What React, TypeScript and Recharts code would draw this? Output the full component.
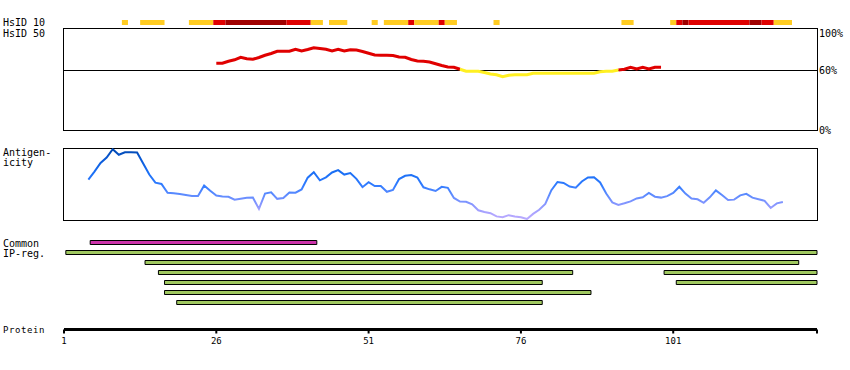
import React from "react"
import {
  ComposedChart,
  Line,
  XAxis,
  YAxis,
  ReferenceArea,
  ReferenceLine,
} from "recharts"

// protein axis: residue 1 sits on the left edge, the axis stops a bit after 124
const PROTEIN_END = 124.6
const axisTicks = [1, 26, 51, 76, 101]

// HsID 10 track: [first residue, last residue, level]
const hsid10Segments: [number, number, string][] = [
  [11, 11, "low"], [14, 17, "low"], [22, 25, "low"], [26, 27, "mid"],
  [28, 37, "high"], [38, 41, "mid"], [42, 43, "low"], [45, 47, "low"],
  [52, 52, "low"], [54, 57, "low"], [58, 58, "mid"], [59, 62, "low"],
  [63, 63, "mid"], [64, 65, "low"], [72, 72, "low"], [93, 94, "low"],
  [101, 101, "low"], [102, 102, "mid"], [103, 103, "high"], [104, 113, "mid"],
  [114, 115, "high"], [116, 117, "mid"], [118, 120, "low"],
]
const levelColors: Record<string, string> = { low: "#ffcc22", mid: "#e00000", high: "#a00000" }

// HsID 50 identity (%) for residues 26..99
const hsid50Start = 26
const hsid50Values = [
  67.2, 67.2, 69.2, 70.7, 73.2, 71.7, 71.2, 73, 75.2, 77,
  79.2, 79.2, 79.2, 81.2, 79.5, 81, 82.7, 82, 81.2, 79.5,
  81.2, 79.5, 80.7, 80.5, 79, 77.2, 75.5, 75.2, 75.2, 75,
  73.5, 73.2, 71, 69.5, 69.2, 68.5, 66.7, 65, 63.5, 63.2,
  61.2, 59.2, 59.2, 59.2, 58, 56.5, 55.8, 53.8, 55.3, 55.8,
  55.8, 55.8, 57.2, 57.2, 57.2, 57.2, 57.2, 57.2, 57.2, 57.2,
  57.2, 57.2, 57.2, 58.7, 59.2, 59.2, 60.5, 61.2, 63.2, 61.5,
  63.2, 61.5, 63.2, 63.2,
]
// stretch drawn in yellow (below threshold)
const hsid50Low: [number, number] = [66, 92]

// antigenicity for residues 5..119
const antigenStart = 5
const antigenValues = [
  56.1, 67.2, 79.2, 86.8, 98.3, 90.6, 94, 94, 93.8, 78.5,
  63.2, 51.8, 50, 37.8, 37.2, 36.1, 34.7, 33.3, 33.3, 47.9,
  40.7, 34, 32.8, 32.2, 28.2, 29.6, 30.8, 31.1, 15.3, 36.8,
  38.5, 29.4, 30.6, 38.2, 37.9, 42.4, 58.8, 66.3, 55.1, 59.2,
  66, 69.2, 63.1, 65.3, 57.2, 45.6, 52.4, 47.2, 47.1, 39.2,
  41.7, 56.9, 61.4, 62.4, 59, 45.4, 42.6, 40.3, 46.1, 44.7,
  30.6, 25.7, 25.3, 21.8, 13.5, 11, 9.4, 5, 3.8, 6.7,
  5, 3.9, 1.4, 8.5, 14.2, 22.2, 41.4, 52.8, 51.4, 46.5,
  44.9, 53.5, 59, 59.4, 52.1, 36.8, 24.4, 21, 23.2, 25.8,
  30, 31.5, 37.5, 32.4, 31.1, 33.1, 37.5, 46.1, 36.7, 29.9,
  28.8, 23.9, 31.5, 41.1, 34.7, 27.8, 28.3, 34.2, 36.4, 31,
  28.8, 26.7, 16.7, 23.1, 25,
]

// Common IP-reg: row, from, to (axis positions)
const commonRegion: [number, number, number][] = [[0, 5.3, 42.5]]
const ipRegions: [number, number, number][] = [
  [1, 1.3, PROTEIN_END],
  [2, 14.3, 121.6],
  [3, 16.5, 84.5], [3, 99.5, PROTEIN_END],
  [4, 17.5, 79.5], [4, 101.5, PROTEIN_END],
  [5, 17.5, 87.5],
  [6, 19.5, 79.5],
]

const FONT = "'DejaVu Sans Mono', monospace"
const MARGIN = { top: 0, right: 33, bottom: 0, left: 64 }

const hsid50Rows = hsid50Values.map((v, i) => {
  const pos = hsid50Start + i
  const low = pos >= hsid50Low[0] && pos <= hsid50Low[1]
  const high = pos <= hsid50Low[0] || pos >= hsid50Low[1]
  return { pos, red: high ? v : null, yellow: low ? v : null }
})
const antigenRows = antigenValues.map((v, i) => ({ pos: antigenStart + i, value: v }))
// anchor rows so the track charts get their scales (the helper line is invisible)
const hsid10Rows = hsid10Segments.map((s) => ({ pos: s[0], lane: 0.5 }))
const ipRows = [...commonRegion, ...ipRegions].map((r) => ({ pos: r[1], lane: r[0] + 1.2 }))

const posAxis = (
  <XAxis type="number" dataKey="pos" domain={[1, PROTEIN_END]} hide allowDataOverflow />
)

const PctTick = (props: any) => {
  const { x, y, payload } = props
  return (
    <text x={x} y={y} dy={payload.value === 100 ? 6 : 3.5} fontSize={10} fontFamily={FONT} fill="#000" textAnchor="start">
      {payload.value}%
    </text>
  )
}

const ResidueTick = (props: any) => {
  const { x, y, payload } = props
  if (!axisTicks.includes(payload.value)) return <g />
  return (
    <text x={x} y={y} dy="0.71em" fontSize={9} fontFamily={FONT} fill="#000" textAnchor="middle">
      {payload.value}
    </text>
  )
}

const frame = (top: number, height: number): React.CSSProperties => ({
  position: "absolute", left: 63, top, width: 755, height,
  border: "1px solid #000", boxSizing: "border-box",
})

export default function App() {
  return (
    <div style={{ position: "absolute", left: 0, top: 0, width: 850, height: 370, background: "#fff" }}>
      <div style={frame(28, 103)} />
      <div style={frame(148, 73)} />

      {/* HsID 10 */}
      <div style={{ position: "absolute", left: 0, top: 20 }}>
        <ComposedChart width={850} height={5} data={hsid10Rows} margin={MARGIN}>
          {posAxis}
          <YAxis type="number" domain={[0, 1]} hide />
          <Line dataKey="lane" stroke="none" dot={false} activeDot={false} isAnimationActive={false} />
          {hsid10Segments.map((s, i) => (
            <ReferenceArea key={i} x1={s[0] - 0.5} x2={s[1] + 0.5} y1={0} y2={1}
              fill={levelColors[s[2]]} fillOpacity={1} stroke="none" />
          ))}
        </ComposedChart>
      </div>

      {/* HsID 50 */}
      <div style={{ position: "absolute", left: 0, top: 29 }}>
        <ComposedChart width={850} height={110} data={hsid50Rows} margin={{ top: 1.5, right: 0, bottom: 8.5, left: 64 }}>
          {posAxis}
          <YAxis
            type="number"
            domain={[0, 100]}
            orientation="right"
            width={33}
            ticks={[0, 60, 100]}
            interval={0}
            axisLine={false}
            tickLine={false}
            tickSize={0}
            tickMargin={2}
            tick={<PctTick />}
          />
          <ReferenceLine y={60} stroke="#000" strokeWidth={1} />
          <Line dataKey="red" stroke="#e00000" strokeWidth={3} dot={false} isAnimationActive={false} />
          <Line dataKey="yellow" stroke="#fff022" strokeWidth={3} dot={false} isAnimationActive={false} />
        </ComposedChart>
      </div>

      {/* Antigenicity */}
      <div style={{ position: "absolute", left: 0, top: 148 }}>
        <ComposedChart width={850} height={72} data={antigenRows} margin={MARGIN}>
          <defs>
            <linearGradient id="antigenGrad" x1="0" y1="0" x2="0" y2="1">
              <stop offset="0" stopColor="#0048b0" />
              <stop offset="0.15" stopColor="#0a5ad8" />
              <stop offset="0.33" stopColor="#1a6ff5" />
              <stop offset="0.51" stopColor="#2f7bff" />
              <stop offset="0.66" stopColor="#5f8cff" />
              <stop offset="0.8" stopColor="#8a97ff" />
              <stop offset="0.94" stopColor="#b2a6ff" />
              <stop offset="1" stopColor="#b8aaff" />
            </linearGradient>
          </defs>
          {posAxis}
          <YAxis type="number" domain={[0, 100]} hide />
          <Line dataKey="value" stroke="url(#antigenGrad)" strokeWidth={2} dot={false} isAnimationActive={false} />
        </ComposedChart>
      </div>

      {/* Common IP-reg */}
      <div style={{ position: "absolute", left: 0, top: 230 }}>
        <ComposedChart width={850} height={80} data={ipRows} margin={{ ...MARGIN, top: 0.5 }}>
          {posAxis}
          <YAxis type="number" domain={[0, 7.95]} reversed hide allowDataOverflow />
          <Line dataKey="lane" stroke="none" dot={false} activeDot={false} isAnimationActive={false} />
          {commonRegion.map((r, i) => (
            <ReferenceArea key={"c" + i} x1={r[1]} x2={r[2]} y1={r[0] + 1} y2={r[0] + 1.4}
              fill="#cc33aa" fillOpacity={1} stroke="#000" strokeWidth={1} />
          ))}
          {ipRegions.map((r, i) => (
            <ReferenceArea key={"g" + i} x1={r[1]} x2={r[2]} y1={r[0] + 1} y2={r[0] + 1.4}
              fill="#a0c860" fillOpacity={1} stroke="#000" strokeWidth={1} />
          ))}
        </ComposedChart>
      </div>

      {/* Protein axis */}
      <div style={{ position: "absolute", left: 0, top: 300 }}>
        <ComposedChart width={850} height={60} data={axisTicks.map((t) => ({ pos: t }))} margin={MARGIN}>
          <XAxis
            type="number"
            dataKey="pos"
            domain={[1, PROTEIN_END]}
            ticks={[...axisTicks, PROTEIN_END]}
            interval={0}
            height={30.5}
            axisLine={{ stroke: "#000", strokeWidth: 3 }}
            tickLine={{ stroke: "#000", strokeWidth: 2 }}
            tickSize={4}
            tickMargin={4.5}
            tick={<ResidueTick />}
            allowDataOverflow
          />
          <YAxis type="number" domain={[0, 1]} hide />
        </ComposedChart>
      </div>

      <svg width={850} height={370} style={{ position: "absolute", left: 0, top: 0, pointerEvents: "none" }}
        fontFamily={FONT} fontSize={10} fill="#000">
        <text x={3} y={26}>HsID 10</text>
        <text x={3} y={36.5}>HsID 50</text>
        <text x={3} y={156}>Antigen-</text>
        <text x={3} y={166}>icity</text>
        <text x={3} y={246.5}>Common</text>
        <text x={3} y={256.5}>IP-reg.</text>
        <text x={3} y={333} fontSize={9} letterSpacing={0.6}>Protein</text>
      </svg>
    </div>
  )
}
